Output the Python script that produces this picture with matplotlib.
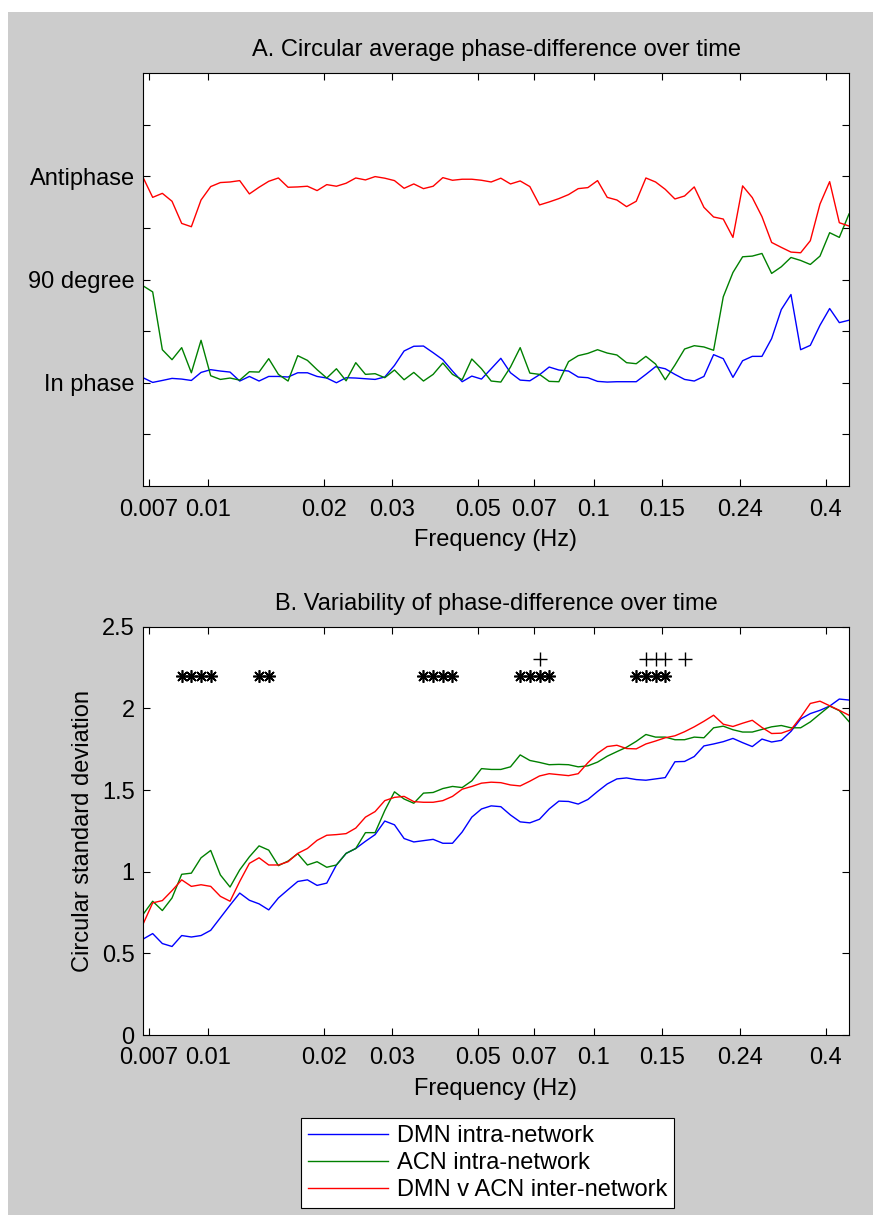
import numpy as np
import matplotlib
matplotlib.use('Agg')
import matplotlib.pyplot as plt
from matplotlib.patches import Rectangle
from matplotlib.ticker import NullLocator

plt.rcParams['font.family'] = ['Liberation Sans', 'DejaVu Sans']

# frequency bins (12 per octave)
freq = [0.006770, 0.007173, 0.007599, 0.008051, 0.008530, 0.009037, 0.009575, 0.010144,
        0.010747, 0.011386, 0.012063, 0.012780, 0.013540, 0.014345, 0.015198, 0.016102,
        0.017060, 0.018074, 0.019149, 0.020288, 0.021494, 0.022772, 0.024126, 0.025561,
        0.027080, 0.028690, 0.030400, 0.032200, 0.034120, 0.036150, 0.038300, 0.040580,
        0.042990, 0.045550, 0.048250, 0.051120, 0.054160, 0.057380, 0.060790, 0.064410,
        0.068240, 0.072290, 0.076590, 0.081150, 0.085970, 0.091090, 0.096500, 0.102240,
        0.108320, 0.114760, 0.121590, 0.128820, 0.136480, 0.144590, 0.153190, 0.162300,
        0.171950, 0.182170, 0.193010, 0.204480, 0.216640, 0.229530, 0.243180, 0.257640,
        0.272960, 0.289190, 0.306390, 0.324610, 0.343910, 0.364360, 0.386030, 0.408980,
        0.433300, 0.459070]

# A: circular mean phase difference (degrees)
dmn_mean = [4.4, 0.3, 2.0, 3.8, 3.2, 2.0, 9.0, 11.4, 10.2, 9.3, 1.5, 5.5, 1.5, 5.5, 5.5, 5.0,
            8.7, 8.7, 5.5, 4.1, 0.0, 4.4, 4.1, 3.5, 2.9, 5.0, 15.1, 27.7, 31.8, 32.0, 26.2, 20.1,
            10.2, 0.9, 5.8, 3.2, 12.2, 21.3, 8.7, 2.3, 1.7, 7.0, 13.7, 11.1, 10.2, 5.0, 4.4, 1.2,
            0.6, 0.9, 0.9, 0.9, 7.3, 14.0, 12.2, 7.3, 2.9, 1.5, 5.5, 24.5, 21.0, 4.7, 19.2, 23.0,
            23.0, 38.5, 63.8, 76.9, 28.8, 32.6, 50.1, 64.7, 52.4, 54.5]
acn_mean = [84.5, 79.2, 28.8, 20.1, 30.6, 8.7, 37.0, 6.1, 2.9, 4.1, 2.3, 9.6, 9.3, 21.0, 7.3, 1.5,
            23.6, 19.5, 11.4, 4.1, 12.2, 1.7, 17.5, 7.3, 7.9, 4.4, 11.1, 2.6, 9.0, 1.5, 7.3, 17.2,
            7.3, 2.6, 20.7, 12.2, 1.5, 0.6, 13.7, 30.6, 8.4, 7.3, 1.2, 0.9, 18.4, 23.6, 25.6, 28.8,
            25.9, 24.2, 17.5, 16.6, 23.0, 16.3, 2.6, 15.4, 29.4, 32.3, 31.2, 28.3, 74.9, 96.1, 109.8,
            110.4, 112.7, 95.3, 101.1, 109.2, 106.6, 103.1, 110.4, 130.8, 126.7, 147.1]
inter_mean = [179.1, 161.6, 165.1, 158.2, 138.9, 136.0, 159.3, 171.0, 174.5, 175.0, 176.2, 164.6,
              170.4, 175.6, 178.5, 170.4, 170.7, 171.3, 167.5, 172.7, 171.3, 173.9, 178.5, 176.8,
              179.7, 178.3, 176.2, 169.5, 173.3, 169.2, 171.3, 178.8, 176.5, 177.4, 177.4, 176.5,
              175.0, 178.3, 173.3, 175.9, 171.0, 155.0, 157.6, 160.5, 164.0, 169.2, 170.1, 176.2,
              161.6, 159.3, 153.5, 158.2, 178.5, 175.0, 168.6, 160.2, 162.8, 170.7, 152.9, 144.5,
              142.7, 126.7, 171.6, 161.4, 144.8, 122.3, 118.0, 113.9, 113.3, 123.8, 155.8, 175.3,
              139.5, 136.6]

# B: circular standard deviation
dmn_sd = [0.587, 0.621, 0.560, 0.542, 0.609, 0.600, 0.609, 0.641, 0.718, 0.795, 0.869, 0.825,
          0.803, 0.766, 0.839, 0.890, 0.940, 0.950, 0.916, 0.930, 1.041, 1.112, 1.142, 1.186,
          1.227, 1.310, 1.287, 1.203, 1.182, 1.190, 1.198, 1.174, 1.174, 1.243, 1.334, 1.384,
          1.403, 1.398, 1.347, 1.305, 1.299, 1.321, 1.384, 1.432, 1.430, 1.414, 1.442, 1.491,
          1.537, 1.568, 1.574, 1.564, 1.560, 1.568, 1.576, 1.673, 1.675, 1.705, 1.770, 1.782,
          1.796, 1.816, 1.790, 1.766, 1.812, 1.794, 1.804, 1.859, 1.935, 1.968, 1.988, 2.014,
          2.057, 2.051]
acn_sd = [0.738, 0.819, 0.762, 0.839, 0.984, 0.991, 1.085, 1.130, 0.980, 0.906, 1.011, 1.091,
          1.158, 1.132, 1.037, 1.065, 1.110, 1.041, 1.061, 1.027, 1.041, 1.112, 1.142, 1.239,
          1.239, 1.374, 1.489, 1.445, 1.419, 1.481, 1.485, 1.509, 1.522, 1.515, 1.556, 1.631,
          1.626, 1.626, 1.642, 1.715, 1.681, 1.669, 1.655, 1.657, 1.655, 1.642, 1.648, 1.671,
          1.707, 1.735, 1.762, 1.798, 1.840, 1.824, 1.824, 1.808, 1.808, 1.824, 1.820, 1.881,
          1.891, 1.869, 1.855, 1.855, 1.871, 1.887, 1.895, 1.881, 1.881, 1.917, 1.966, 2.014,
          1.986, 1.919]
inter_sd = [0.678, 0.809, 0.823, 0.884, 0.950, 0.910, 0.920, 0.910, 0.849, 0.819, 0.940, 1.051,
            1.085, 1.041, 1.041, 1.061, 1.112, 1.142, 1.192, 1.223, 1.227, 1.233, 1.267, 1.334,
            1.368, 1.435, 1.455, 1.461, 1.429, 1.425, 1.425, 1.435, 1.461, 1.505, 1.522, 1.542,
            1.548, 1.545, 1.531, 1.525, 1.554, 1.586, 1.600, 1.594, 1.588, 1.600, 1.667, 1.725,
            1.766, 1.774, 1.754, 1.752, 1.782, 1.800, 1.820, 1.832, 1.857, 1.887, 1.921, 1.958,
            1.903, 1.889, 1.909, 1.927, 1.883, 1.846, 1.848, 1.869, 1.945, 2.030, 2.044, 2.016,
            1.988, 1.958]

# significance markers (bin indices)
star_idx = [4, 5, 6, 7, 12, 13, 29, 30, 31, 32, 39, 40, 41, 42, 51, 52, 53, 54]
plus_idx = [41, 52, 53, 54, 56]
star_level = 2.2
plus_level = 2.3

xtick_vals = [0.007, 0.01, 0.02, 0.03, 0.05, 0.07, 0.1, 0.15, 0.24, 0.4]
xtick_labels = ['0.007', '0.01', '0.02', '0.03', '0.05', '0.07', '0.1', '0.15', '0.24', '0.4']
labels = ['DMN intra-network', 'ACN intra-network', 'DMN v ACN inter-network']
colors = ['#0000ff', '#008000', '#ff0000']

fs = 17

fig = plt.figure(figsize=(8.73, 12.15), dpi=100, facecolor='white')
fig.patches.append(Rectangle((8 / 873, 0), 1, 1 - 12 / 1215, transform=fig.transFigure,
                             facecolor='#cccccc', edgecolor='none', zorder=-10))

axA = fig.add_axes([143 / 873, 1 - 486 / 1215, 706 / 873, 413 / 1215])
axB = fig.add_axes([143 / 873, 1 - 1035 / 1215, 706 / 873, 408.3 / 1215])

for ax in (axA, axB):
    ax.set_xscale('log')
    ax.set_xlim(freq[0], freq[-1])
    ax.set_xticks(xtick_vals)
    ax.set_xticklabels(xtick_labels)
    ax.xaxis.set_minor_locator(NullLocator())
    ax.tick_params(direction='in', length=5, width=0.8, top=True, right=True,
                   labelsize=fs, pad=6)
    ax.tick_params(axis='x', pad=9)
    for s in ax.spines.values():
        s.set_linewidth(0.8)
    ax.set_xlabel('Frequency (Hz)', fontsize=fs, labelpad=6)

lines = []
for y, c in zip([dmn_mean, acn_mean, inter_mean], colors):
    axA.plot(freq, y, color=c, lw=1.0)
axA.set_ylim(-90, 270)
axA.set_yticks([-45, 0, 45, 90, 135, 180, 225])
axA.set_yticklabels(['', 'In phase', '', '90 degree', '', 'Antiphase', ''])
axA.set_title('A. Circular average phase-difference over time', fontsize=fs, pad=12)

for y, c, lab in zip([dmn_sd, acn_sd, inter_sd], colors, labels):
    ln, = axB.plot(freq, y, color=c, lw=1.0, label=lab)
    lines.append(ln)
f = np.array(freq)
axB.plot(f[star_idx], [star_level] * len(star_idx), ls='none', marker=(8, 2, 0),
         ms=9, mew=1.2, color='black')
axB.plot(f[plus_idx], [plus_level] * len(plus_idx), ls='none', marker='+',
         ms=10, mew=1.0, color='black')
axB.set_ylim(0, 2.5)
axB.set_yticks([0, 0.5, 1, 1.5, 2, 2.5])
axB.set_yticklabels(['0', '0.5', '1', '1.5', '2', '2.5'])
axB.set_ylabel('Circular standard deviation', fontsize=fs, labelpad=6)
axB.set_title('B. Variability of phase-difference over time', fontsize=fs, pad=12)

leg = fig.legend(handles=lines, loc='center',
                 bbox_to_anchor=((294 + 681) / 2 / 873, 1 - (1116 + 1210) / 2 / 1215),
                 fontsize=fs, frameon=True, fancybox=False, edgecolor='black',
                 framealpha=1, handlelength=3.4, handletextpad=0.35, labelspacing=0.22,
                 borderpad=0.3, borderaxespad=0)
leg.get_frame().set_linewidth(0.8)

fig.savefig('out.png', dpi=100, facecolor=fig.get_facecolor())
